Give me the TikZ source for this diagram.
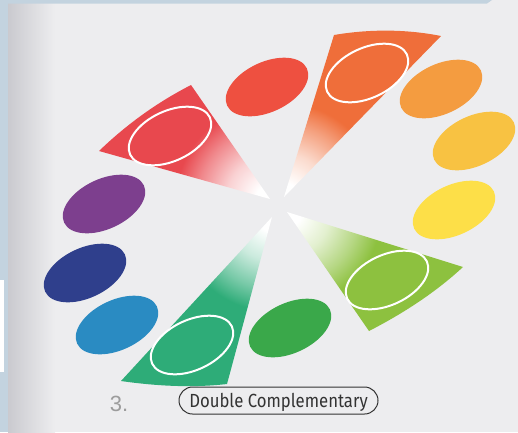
\documentclass[tikz,border=0pt]{standalone}
\usepackage{fontspec}
\usetikzlibrary{shapes.geometric}
\newfontfamily\labelfont{Fira Sans}
\newfontfamily\numfont{Liberation Sans}
\definecolor{pagebg}{HTML}{EDEDEF}
\definecolor{pageshadow}{HTML}{CACACF}
\definecolor{strip}{HTML}{C3D3DF}
\definecolor{cRed}{HTML}{EE5040}
\definecolor{cOrange}{HTML}{EF6E3A}
\definecolor{cLtOrange}{HTML}{F49C40}
\definecolor{cYelOr}{HTML}{F8C242}
\definecolor{cYellow}{HTML}{FDDF48}
\definecolor{cYelGreen}{HTML}{8DC13F}
\definecolor{cGreen}{HTML}{3AA84A}
\definecolor{cTeal}{HTML}{2EAC78}
\definecolor{cBlue}{HTML}{2A8BC2}
\definecolor{cDkBlue}{HTML}{2F3F8C}
\definecolor{cPurple}{HTML}{7D3F8E}
\definecolor{cRose}{HTML}{E8484E}
\definecolor{labeltext}{HTML}{333333}
\definecolor{numgray}{HTML}{9C9C9C}
\pgfdeclareradialshading{shRose}{\pgfpoint{0bp}{0bp}}{color(0bp)=(white); color(1.5bp)=(white); color(4.5bp)=(cRose!25!white); color(7.5bp)=(cRose!65!white); color(9.8bp)=(cRose); color(50bp)=(cRose)}
\pgfdeclareradialshading{shOrange}{\pgfpoint{0bp}{0bp}}{color(0bp)=(white); color(1.5bp)=(white); color(4.5bp)=(cOrange!25!white); color(7.5bp)=(cOrange!65!white); color(9.8bp)=(cOrange); color(50bp)=(cOrange)}
\pgfdeclareradialshading{shYG}{\pgfpoint{0bp}{0bp}}{color(0bp)=(white); color(1.5bp)=(white); color(4.5bp)=(cYelGreen!25!white); color(7.5bp)=(cYelGreen!65!white); color(9.8bp)=(cYelGreen); color(50bp)=(cYelGreen)}
\pgfdeclareradialshading{shTeal}{\pgfpoint{0bp}{0bp}}{color(0bp)=(white); color(1.5bp)=(white); color(4.5bp)=(cTeal!25!white); color(7.5bp)=(cTeal!65!white); color(9.8bp)=(cTeal); color(50bp)=(cTeal)}
\tikzset{
  blob/.style={ellipse, minimum width=88pt, minimum height=50pt, inner sep=0pt, rotate=25},
  ring/.style={blob, draw=white, line width=2pt}
}
\begin{document}
\begin{tikzpicture}[x=1pt, y=-1pt]
\useasboundingbox (0,0) rectangle (518,432);
% page
\fill[pagebg] (0,0) rectangle (518,432);
\shade[left color=pageshadow, right color=pagebg] (8,0) rectangle (55,432);
\fill[strip] (0,0) -- (492,0) -- (487,3.5) -- (0,3.5) -- cycle;
\fill[strip] (0,0) rectangle (8,432);
\fill[white] (0,280) rectangle (4,372);
% wedges
\begin{scope}
  \clip (270,199) -- (99,151) .. controls (126,125) and (156,103) .. (191,85) -- cycle;
  \shade[shading=shRose] (270,199) circle[radius=240];
\end{scope}
\begin{scope}
  \clip (284,197) -- (334,35) .. controls (369,29) and (406,29) .. (441,36) -- cycle;
  \shade[shading=shOrange] (284,197) circle[radius=240];
\end{scope}
\begin{scope}
  \clip (287,212) -- (463,267) .. controls (436,292) and (404,313) .. (369,331) -- cycle;
  \shade[shading=shYG] (287,212) circle[radius=240];
\end{scope}
\begin{scope}
  \clip (272,217) -- (121,381) .. controls (156,386) and (192,388) .. (227,384) -- cycle;
  \shade[shading=shTeal] (272,217) circle[radius=240];
\end{scope}
% plain ellipses
\node[blob, fill=cRed] (eRed) at (267,87) {};
\node[blob, fill=cLtOrange] (eLtOrange) at (441,89) {};
\node[blob, fill=cYelOr] (eYelOr) at (474,141) {};
\node[blob, fill=cYellow] (eYellow) at (454,210) {};
\node[blob, fill=cGreen] (eGreen) at (290,328) {};
\node[blob, fill=cBlue] (eBlue) at (117,325) {};
\node[blob, fill=cDkBlue] (eDkBlue) at (85,273) {};
\node[blob, fill=cPurple] (ePurple) at (104,204) {};
% rings in wedges
\node[ring] (rRose) at (170,136) {};
\node[ring] (rOrange) at (367,73) {};
\node[ring] (rYG) at (387,280) {};
\node[ring] (rTeal) at (192,345) {};
% label
\node[draw=labeltext, line width=1pt, rounded corners=13.5pt, minimum width=199pt, minimum height=27pt, inner sep=0pt, text=labeltext, text height=13pt, text depth=0pt] (lbl) at (278.5,400.5) {\labelfont\fontsize{19}{20}\selectfont\scalebox{0.88}[1]{Double Complementary}};
\node[text=numgray, inner sep=0pt, font=\numfont\fontsize{22}{24}\selectfont] (num) at (119,404) {3.};
\end{tikzpicture}
\end{document}
